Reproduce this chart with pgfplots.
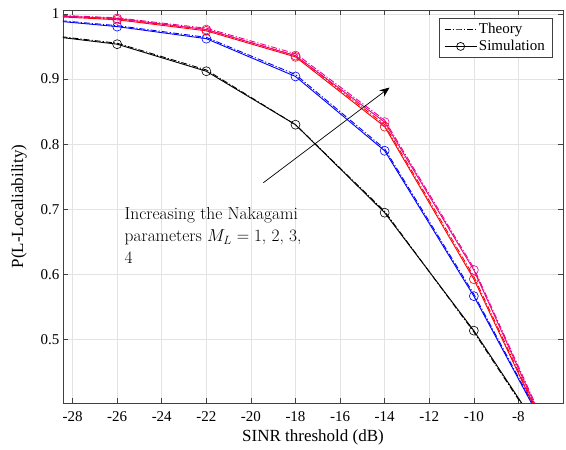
\documentclass[border=0pt]{standalone}
\usepackage{fontspec}
\setmainfont{Liberation Serif}
\newfontfamily\lmfont{Latin Modern Roman}
\usepackage{pgfplots}
\pgfplotsset{compat=1.18}
\usetikzlibrary{arrows.meta}

\pgfplotstableread{
x     bs     bt     us     ut     rs     rt     ms     mt
-30   0.970  0.971  0.993  0.994  0.998  0.999  0.999  1.000
-26   0.9535 0.955  0.9805 0.982  0.991  0.992  0.993  0.994
-22   0.912  0.914  0.962  0.964  0.974  0.976  0.976  0.978
-18   0.830  0.830  0.904  0.907  0.934  0.936  0.936  0.939
-14   0.695  0.697  0.790  0.793  0.827  0.830  0.834  0.837
-10   0.514  0.512  0.567  0.570  0.593  0.597  0.607  0.610
-6    0.307  0.305  0.313  0.315  0.304  0.306  0.305  0.308
}\datatab

\begin{document}
\begin{tikzpicture}
\begin{axis}[
    scale only axis,
    width=500pt, height=393pt,
    xmin=-28.43, xmax=-6,
    ymin=0.403, ymax=1.006,
    xtick={-28,-26,...,-8},
    xticklabels={-28,-26,-24,-22,-20,-18,-16,-14,-12,-10,-8},
    ytick={0.5,0.6,0.7,0.8,0.9,1},
    yticklabels={0.5,0.6,0.7,0.8,0.9,1},
    tick label style={font=\fontsize{15}{18}\selectfont},
    xticklabel style={yshift=-5pt},
    label style={font=\fontsize{17}{20}\selectfont},
    xlabel={SINR threshold (dB)},
    ylabel={P(L-Localiability)},
    xlabel style={yshift=-1pt},
    ylabel style={yshift=7pt},
    tick align=inside,
    major tick length=5pt,
    grid=major,
    grid style={gray!22, line width=0.6pt},
    axis line style={black!75, line width=0.6pt},
    every tick/.style={black!75, line width=0.6pt},
    legend style={at={(0.978,0.980)}, anchor=north east, draw=black!75,
        font=\fontsize{15}{18}\selectfont, inner xsep=5pt, inner ysep=3pt,
        row sep=1.5pt},
    legend cell align=left,
    legend image code/.code={
        \draw[mark repeat=2, mark phase=2]
            plot coordinates {(0pt,0pt) (16pt,0pt) (32pt,0pt)};},
    every axis plot/.append style={line width=0.9pt},
    theory/.style={dash pattern=on 6pt off 2pt on 1.2pt off 2pt},
    sim/.style={solid, mark=o, mark size=4.5pt, mark options={solid, line width=0.6pt}},
]
\addplot[black, theory, forget plot] table[x=x, y=bt] {\datatab};
\addplot[black, sim, forget plot] table[x=x, y=bs] {\datatab};
\addplot[blue, theory, forget plot] table[x=x, y=ut] {\datatab};
\addplot[blue, sim, forget plot] table[x=x, y=us] {\datatab};
\addplot[red, theory, forget plot] table[x=x, y=rt] {\datatab};
\addplot[red, sim, forget plot] table[x=x, y=rs] {\datatab};
\addplot[magenta, theory, forget plot] table[x=x, y=mt] {\datatab};
\addplot[magenta, sim, forget plot] table[x=x, y=ms] {\datatab};

\addlegendimage{black, line width=0.7pt, dash pattern=on 6pt off 2pt on 1.2pt off 2pt}
\addlegendentry{Theory}
\addlegendimage{black, line width=0.7pt, mark=o, mark size=4pt, mark options={solid}}
\addlegendentry{Simulation}

\draw[-{Stealth[length=10pt, width=8pt]}, line width=0.7pt]
    (axis cs:-19.44,0.741) -- (axis cs:-13.78,0.887);
\node[anchor=north west, inner sep=0pt, align=left,
      font=\lmfont\fontsize{17.4}{22}\selectfont]
    at (axis cs:-25.67,0.7035)
    {Increasing the Nakagami\\parameters $M_L=1$, 2, 3,\\4};
\end{axis}
\pgfresetboundingbox
\path (current axis.south west) ++(-63pt,-47pt);
\path (current axis.north east) ++(3pt,10pt);
\end{tikzpicture}
\end{document}
